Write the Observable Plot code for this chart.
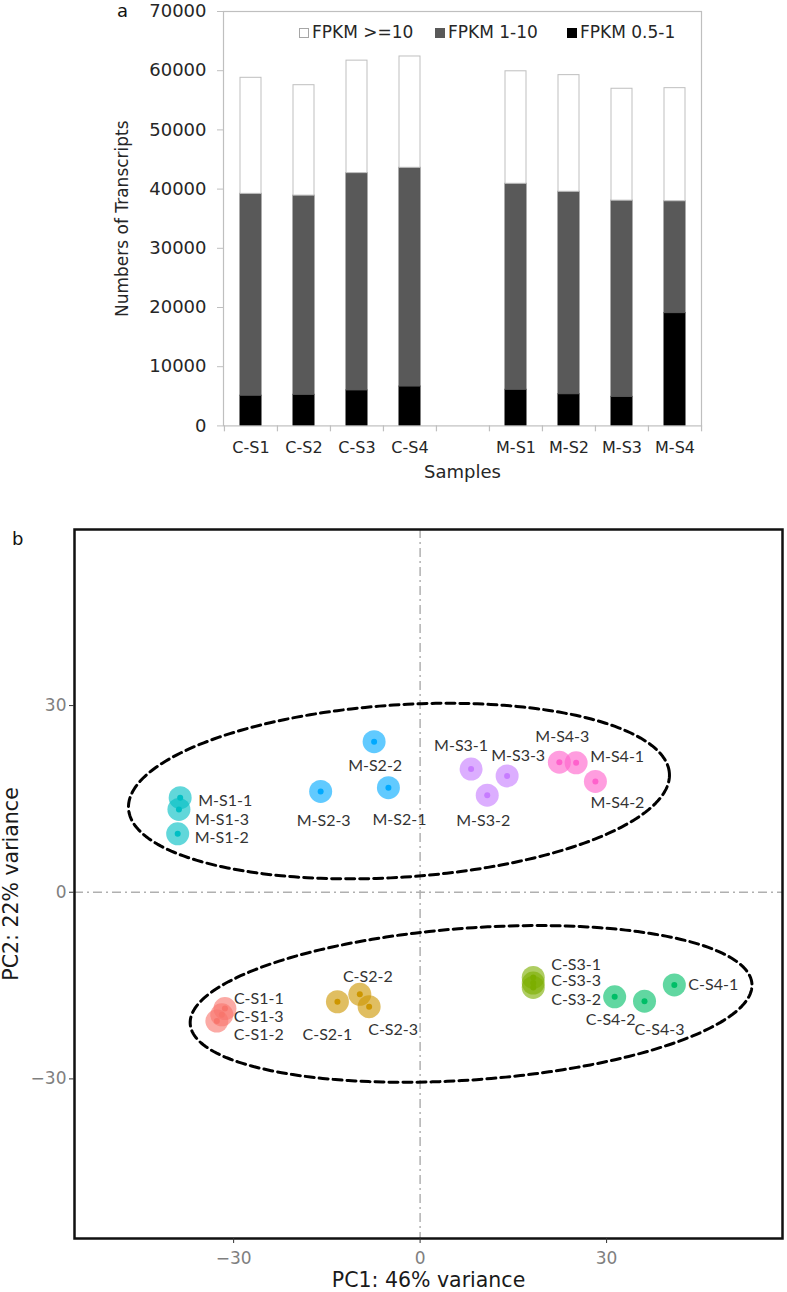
<!DOCTYPE html>
<html>
<head>
<meta charset="utf-8">
<script src="https://cdn.jsdelivr.net/npm/d3@7"></script>
<script src="https://cdn.jsdelivr.net/npm/@observablehq/plot@0.6"></script>
<style>
  html, body { margin: 0; padding: 0; background: #fff; }
  #page { position: relative; width: 787px; height: 1292px; background: #fff; overflow: hidden; }
  #chartA, #chartB { display: block; }
  .panel { position: absolute; font-family: "DejaVu Sans", sans-serif; color: #111; }
  .leg { position: absolute; top: 24px; display: flex; align-items: center; font-family: "DejaVu Sans", sans-serif; font-size: 17px; line-height: 17px; color: #262626; white-space: nowrap; }
  .sw { width: 10px; height: 10px; margin-right: 3px; box-sizing: border-box; }
</style>
</head>
<body>
<div id="page">
  <div id="chartA"></div>
  <div id="chartB"></div>
  <div class="panel" style="left:117px; top:0px; font-size:18px; line-height:normal;">a</div>
  <div class="leg" style="left:299px;"><div class="sw" style="background:#fff;border:1px solid #a6a6a6;"></div>FPKM &gt;=10</div>
  <div class="leg" style="left:435px;"><div class="sw" style="background:#595959;"></div>FPKM 1-10</div>
  <div class="leg" style="left:567px;"><div class="sw" style="background:#000;"></div>FPKM 0.5-1</div>
  <div class="panel" style="left:12px; top:530px; font-size:18px; line-height:18px;">b</div>
</div>
<script>
// ---------- Panel a data ----------
const sampleNames = ["C-S1", "C-S2", "C-S3", "C-S4", "M-S1", "M-S2", "M-S3", "M-S4"];
const xSlots = ["C-S1", "C-S2", "C-S3", "C-S4", " ", "M-S1", "M-S2", "M-S3", "M-S4"];
const fpkm05to1 = [5100, 5250, 6000, 6650, 6100, 5350, 4900, 19050];
const fpkm1to10 = [34100, 33650, 36700, 36950, 34800, 34200, 33150, 18900];
const fpkmGe10 = [19600, 18650, 19000, 18800, 19000, 19700, 18900, 19100];
const fpkmClasses = ["FPKM 0.5-1", "FPKM 1-10", "FPKM >=10"];
const fpkmColors = ["#000000", "#595959", "#ffffff"];
const yTicksA = [0, 10000, 20000, 30000, 40000, 50000, 60000, 70000];

// ---------- Panel b data ----------
const pcaNames = ["M-S1-1", "M-S1-3", "M-S1-2", "M-S2-1", "M-S2-2", "M-S2-3",
  "M-S3-1", "M-S3-2", "M-S3-3", "M-S4-1", "M-S4-2", "M-S4-3",
  "C-S1-1", "C-S1-2", "C-S1-3", "C-S2-1", "C-S2-2", "C-S2-3",
  "C-S3-1", "C-S3-2", "C-S3-3", "C-S4-1", "C-S4-2", "C-S4-3"];
const pc1 = [-38.6, -38.8, -39.0, -5.1, -7.4, -16.0,
  8.2, 10.8, 14.0, 25.1, 28.2, 22.4,
  -31.4, -32.7, -31.9, -13.3, -9.7, -8.2,
  18.2, 18.2, 18.2, 40.9, 31.3, 36.1];
const pc2 = [15.2, 13.3, 9.4, 16.8, 24.2, 16.2,
  19.8, 15.6, 18.7, 20.8, 17.8, 20.9,
  -18.7, -20.7, -19.7, -17.6, -16.4, -18.4,
  -13.7, -15.3, -14.6, -14.9, -16.8, -17.5];
const pcaGroups = ["C-S1", "C-S2", "C-S3", "C-S4", "M-S1", "M-S2", "M-S3", "M-S4"];
const groupColors = ["#F8766D", "#CD9600", "#7CAE00", "#00BE67", "#00BFC4", "#00A9FF", "#C77CFF", "#FF61CC"];
const pcTicks = [-30, 0, 30];
// confidence ellipses: centre, semi-axes (PC units), rotation (degrees)
const ellCx = [-3.4, 8.2];
const ellCy = [16.26, -17.95];
const ellRx = [43.6, 45.3];
const ellRy = [13.85, 12.2];
const ellAngle = [3.74, 4.1];

// ---------- build panel a ----------
const colorOfClass = Object.fromEntries(fpkmClasses.map((c, i) => [c, fpkmColors[i]]));
const rowsA = [];
sampleNames.forEach((s, i) => {
  [fpkm05to1, fpkm1to10, fpkmGe10].forEach((arr, k) => rowsA.push({sample: s, cls: fpkmClasses[k], count: arr[i]}));
});

const W = 787;
const HA = 490, mlA = 223, mrA = 86, mtA = 11, mbA = 64.6;
const stepA = (W - mlA - mrA) / xSlots.length;
const gridGray = "#bfbfbf";

const chartA = Plot.plot({
  width: W, height: HA,
  marginLeft: mlA, marginRight: mrA, marginTop: mtA, marginBottom: mbA,
  style: {fontFamily: "DejaVu Sans, sans-serif", background: "transparent", color: "#262626"},
  x: {domain: xSlots, paddingInner: 0.605, paddingOuter: 0.3025, axis: null},
  y: {domain: [0, 70000], axis: null},
  color: {type: "identity"},
  marks: [
    Plot.barY(rowsA, {
      x: "sample", y: "count",
      fill: d => colorOfClass[d.cls],
      stroke: d => d.cls === "FPKM >=10" ? gridGray : colorOfClass[d.cls],
      strokeWidth: 1
    }),
    Plot.frame({stroke: gridGray, strokeWidth: 1.2}),
    Plot.axisY(yTicksA, {tickSize: 6, tickPadding: 11, tickFormat: d => String(d), fontSize: 18, stroke: gridGray, fill: "#262626", label: null}),
    Plot.axisX({tickSize: 0, tickPadding: 16, fontSize: 16, fill: "#262626", label: null}),
    Plot.ruleX(xSlots, {x: d => d, y1: 0, y2: -1000, dx: -stepA / 2, stroke: gridGray, strokeWidth: 1.2}),
    Plot.ruleX([xSlots[xSlots.length - 1]], {x: d => d, y1: 0, y2: -1000, dx: stepA / 2, stroke: gridGray, strokeWidth: 1.2}),
    Plot.text(["Samples"], {frameAnchor: "bottom", lineAnchor: "middle", textAnchor: "middle", dy: 46, fontSize: 18, fill: "#262626"}),
    Plot.text(["Numbers of Transcripts"], {frameAnchor: "left", textAnchor: "middle", lineAnchor: "middle", dx: -101, rotate: -90, fontSize: 17, fill: "#262626"})
  ]
});
document.getElementById("chartA").append(chartA);

// ---------- build panel b ----------
const points = pcaNames.map((n, i) => ({name: n, group: n.slice(0, 4), pc1: pc1[i], pc2: pc2[i]}));
const groupColor = Object.fromEntries(pcaGroups.map((g, i) => [g, groupColors[i]]));

const ellipsePts = [];
ellCx.forEach((cx, k) => {
  const a = ellAngle[k] * Math.PI / 180;
  for (let i = 0; i <= 240; i++) {
    const t = i / 240 * 2 * Math.PI;
    const ex = ellRx[k] * Math.cos(t), ey = ellRy[k] * Math.sin(t);
    ellipsePts.push({id: k, x: cx + ex * Math.cos(a) - ey * Math.sin(a), y: ellCy[k] + ex * Math.sin(a) + ey * Math.cos(a)});
  }
});

// label placement (pixel offsets, anchor) – ggrepel-like layout
const labelPlacement = {
  "M-S1-1": [18, 3, "start"], "M-S1-3": [16, 10, "start"], "M-S1-2": [17, 4, "start"],
  "M-S2-3": [3, 29, "middle"], "M-S2-1": [11, 32, "middle"], "M-S2-2": [1, 24, "middle"],
  "M-S3-1": [-10, -23, "middle"], "M-S3-3": [11, -20, "middle"], "M-S3-2": [-4, 26, "middle"],
  "M-S4-3": [3, -25, "middle"], "M-S4-1": [14, -6, "start"], "M-S4-2": [22, 21, "middle"],
  "C-S1-1": [9, -10, "start"], "C-S1-3": [12, 2, "start"], "C-S1-2": [17, 14, "start"],
  "C-S2-2": [8, -17, "middle"], "C-S2-1": [-10, 33, "middle"], "C-S2-3": [24, 23, "middle"],
  "C-S3-1": [18, -13, "start"], "C-S3-3": [18, -2, "start"], "C-S3-2": [18, 12, "start"],
  "C-S4-2": [-4, 23, "middle"], "C-S4-3": [15, 29, "middle"], "C-S4-1": [14, 0, "start"]
};

const labelMarks = points.map(p => {
  const [dx, dy, anchor] = labelPlacement[p.name];
  return Plot.text([p], {x: "pc1", y: "pc2", text: "name", dx, dy, textAnchor: anchor,
    fontSize: 16, fontFamily: "Lato, sans-serif", fill: "#333"});
});

const refLine = {stroke: "#b0b0b0", strokeWidth: 1.5, strokeDasharray: "9,4,2,4"};

const chartB = Plot.plot({
  width: W, height: 802,
  marginLeft: 74, marginRight: 5, marginTop: 39, marginBottom: 54,
  style: {fontFamily: "DejaVu Sans, sans-serif", background: "transparent", color: "#333"},
  x: {domain: [-55.6, 58.3], axis: null},
  y: {domain: [-55.65, 58.3], axis: null},
  color: {type: "identity"},
  marks: [
    Plot.ruleX([0], refLine),
    Plot.ruleY([0], refLine),
    Plot.line(ellipsePts, {x: "x", y: "y", z: "id", stroke: "#000", strokeWidth: 3, strokeDasharray: "9,5"}),
    Plot.dot(points, {x: "pc1", y: "pc2", r: 11.5, fill: d => groupColor[d.group], fillOpacity: 0.62, stroke: "none"}),
    Plot.dot(points, {x: "pc1", y: "pc2", r: 3, fill: d => groupColor[d.group], stroke: "none"}),
    ...labelMarks,
    Plot.frame({stroke: "#111", strokeWidth: 2.5}),
    Plot.axisX(pcTicks, {tickSize: 5, tickPadding: 8, fontSize: 17, fill: "#7f7f7f", stroke: "#333", label: null}),
    Plot.axisY(pcTicks, {tickSize: 5, tickPadding: 3, fontSize: 17, fill: "#7f7f7f", stroke: "#333", label: null}),
    Plot.text(["PC1: 46% variance"], {frameAnchor: "bottom", lineAnchor: "middle", textAnchor: "middle", dy: 42, fontSize: 20.5, fill: "#1a1a1a"}),
    Plot.text(["PC2: 22% variance"], {frameAnchor: "left", lineAnchor: "middle", textAnchor: "middle", dx: -63.5, rotate: -90, fontSize: 20.5, fill: "#1a1a1a"})
  ]
});
document.getElementById("chartB").append(chartB);
</script>
</body>
</html>
